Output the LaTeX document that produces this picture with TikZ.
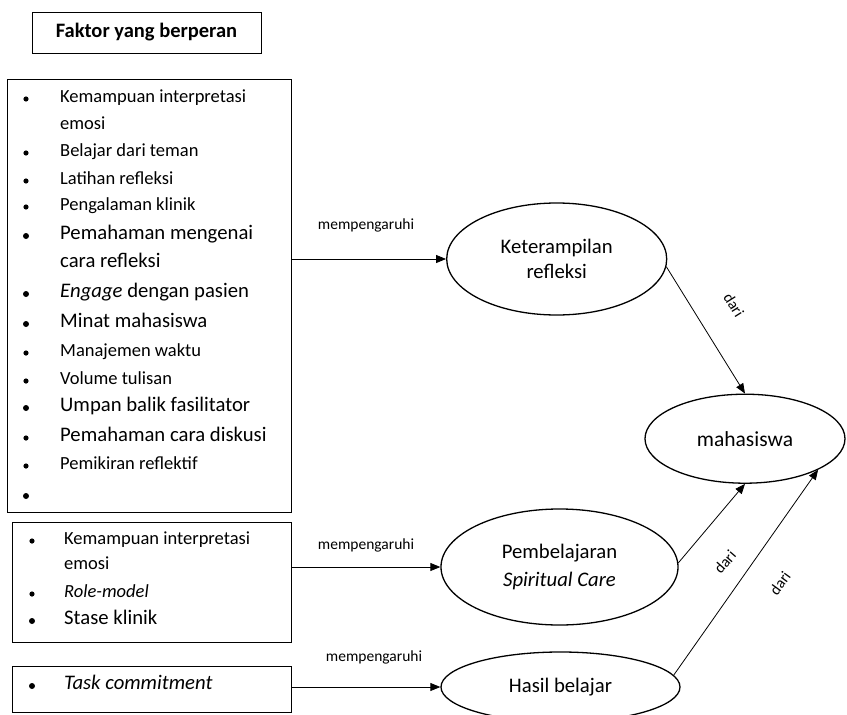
\documentclass[tikz,border=0pt]{standalone}
\usepackage{fontspec}
\setmainfont{Carlito}
\usetikzlibrary{arrows.meta,shapes.geometric}

\tikzset{
  vak/.style={draw, line width=0.9pt, inner sep=0pt},
  oval/.style={ellipse, draw, line width=1.3pt, inner sep=0pt, align=center, font=\fontsize{20.7}{25}\selectfont},
  kecil/.style={anchor=mid west, inner sep=0pt, font=\fontsize{18.5}{22}\selectfont},
  besar/.style={anchor=mid west, inner sep=0pt, font=\fontsize{20.7}{24}\selectfont},
  lbl/.style={inner sep=1pt, font=\fontsize{15.5}{18}\selectfont},
  pijl/.style={-{Triangle[length=10pt,width=8pt]}, line width=0.8pt},
}

\begin{document}
\begin{tikzpicture}[x=1pt, y=-1pt]
    \useasboundingbox (0,0) rectangle (847,715);

    % draw the boxes
    \node[vak, minimum width=229pt, minimum height=41pt, font=\bfseries\fontsize{20.5}{24}\selectfont] (titel) at (146.5,32.5) {Faktor yang berperan};
    \node[vak, anchor=north west, minimum width=284pt, minimum height=433pt] (box1) at (7,79) {};
    \node[vak, anchor=north west, minimum width=279pt, minimum height=120pt] (box2) at (12,522) {};
    \node[vak, anchor=north west, minimum width=279pt, minimum height=46pt] (box3) at (12,666) {};

    % the factors in the first box
    \node[kecil] (f1) at (60,100) {Kemampuan interpretasi};
    \node[kecil] (f2) at (60,127) {emosi};
    \node[kecil] (f3) at (60,154) {Belajar dari teman};
    \node[kecil] (f4) at (60,182) {Latihan refleksi};
    \node[kecil] (f5) at (60,208) {Pengalaman klinik};
    \node[besar] (f6) at (60,237) {Pemahaman mengenai};
    \node[besar] (f7) at (60,265) {cara refleksi};
    \node[besar] (f8) at (60,295) {\emph{Engage} dengan pasien};
    \node[besar] (f9) at (60,325) {Minat mahasiswa};
    \node[kecil] (f10) at (60,354) {Manajemen waktu};
    \node[kecil] (f11) at (60,382) {Volume tulisan};
    \node[besar] (f12) at (60,409) {Umpan balik fasilitator};
    \node[besar] (f13) at (60,439) {Pemahaman cara diskusi};
    \node[kecil] (f14) at (60,467) {Pemikiran reflektif};
    %
    \fill (26,99) circle (2.6pt);
    \fill (26,153) circle (2.6pt);
    \fill (26,181) circle (2.6pt);
    \fill (26,207) circle (2.6pt);
    \fill (26,236) circle (3pt);
    \fill (26,294) circle (3pt);
    \fill (26,324) circle (3pt);
    \fill (26,353) circle (2.6pt);
    \fill (26,381) circle (2.6pt);
    \fill (26,408) circle (3pt);
    \fill (26,438) circle (2.6pt);
    \fill (26,466) circle (2.6pt);
    \fill (26,496) circle (3pt);

    % the factors in the second and third box
    \node[kecil] (r1) at (64,542) {Kemampuan interpretasi};
    \node[kecil] (r2) at (64,567) {emosi};
    \node[kecil] (r3) at (64,595) {\emph{Role-model}};
    \node[besar] (r4) at (64,622) {Stase klinik};
    \node[besar] (t1) at (64,687) {\emph{Task commitment}};
    %
    \fill (32,541) circle (2.6pt);
    \fill (32,594) circle (2.6pt);
    \fill (32,621) circle (3pt);
    \fill (32,686) circle (3pt);

    % the ellipses
    \node[oval, minimum width=220pt, minimum height=112pt] (ket) at (556.7,259) {Keterampilan\\refleksi};
    \node[oval, minimum width=200pt, minimum height=89pt, font=\fontsize{21.5}{25}\selectfont] (mhs) at (745,438.7) {mahasiswa};
    \node[oval, minimum width=237pt, minimum height=116pt] (pemb) at (559.5,567) {Pembelajaran\\[3pt]\emph{Spiritual Care}};
    \node[oval, minimum width=239pt, minimum height=70pt] (hasil) at (560.5,687) {Hasil belajar};

    % draw the arrows
    \draw[pijl] (box1.east |- ket.west) -- (ket.west);
    \node[lbl] (m1) at (366,225) {mempengaruhi};
    \draw[pijl] (box2.east |- pemb.west) -- (pemb.west);
    \node[lbl] (m2) at (366,545) {mempengaruhi};
    \draw[pijl] (box3.east |- hasil.west) -- (hasil.west);
    \node[lbl] (m3) at (374,657) {mempengaruhi};
    %
    \draw[pijl] (ket.-4) -- (mhs.north);
    \node[lbl, rotate=-58] (d1) at (734,305) {dari};
    \draw[pijl] (pemb.2) -- (mhs.south);
    \node[lbl, rotate=49] (d2) at (725,562) {dari};
    \draw[pijl] (hasil.6) -- (mhs.-23);
    \node[lbl, rotate=54] (d3) at (780,583) {dari};
\end{tikzpicture}
\end{document}
